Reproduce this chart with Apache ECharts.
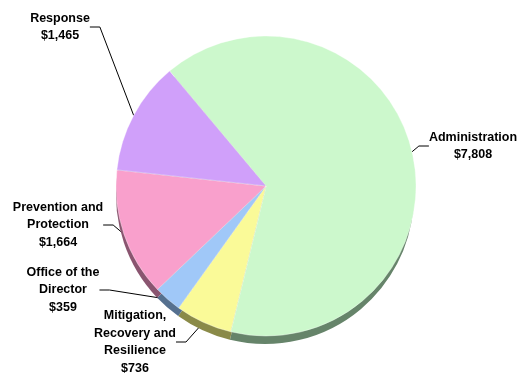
<!DOCTYPE html>
<html><head><meta charset="utf-8">
<script src="https://cdn.jsdelivr.net/npm/echarts@6/dist/echarts.min.js"></script>
<style>html,body{margin:0;padding:0;background:#fff}#c{width:519px;height:373px}</style>
</head><body><div id="c"></div>
<script>
const categories = ['Administration', 'Mitigation,\nRecovery and\nResilience', 'Office of the\nDirector', 'Prevention and\nProtection', 'Response'];
const values = [7808, 736, 359, 1664, 1465];
const valueLabels = ['$7,808', '$736', '$359', '$1,664', '$1,465'];

const topColors = ['#ccf8cc', '#fafa98', '#a0c8f8', '#f9a0cc', '#d0a0fa'];
const sideColors = ['#66846a', '#8a8a48', '#55708f', '#8a5570', '#6f558a'];
const labelPos = [[473, 146], [135, 342], [63, 290], [58, 225], [60, 27]];

const chart = echarts.init(document.getElementById('c'), null, {renderer: 'canvas'});
const cx = 266, cy = 186, R = 150;
chart.setOption({
  animation: false,
  series: [
    {
      type: 'pie', silent: true, center: [cx - 1, cy + 9], radius: R - 1, startAngle: 130, clockwise: true,
      label: {show: false}, labelLine: {show: false},
      data: values.map((v, i) => ({value: v, name: categories[i], itemStyle: {color: sideColors[i]}}))
    },
    {
      type: 'pie', center: [cx, cy], radius: R, startAngle: 130, clockwise: true,
      itemStyle: {borderColor: 'rgba(255,255,255,0.6)', borderWidth: 0.6},
      label: {
        show: true, position: 'outside', overflow: 'none', alignTo: 'none',
        formatter: p => p.name + '\n' + valueLabels[p.dataIndex],
        fontFamily: 'Liberation Sans', fontWeight: 'bold', fontSize: 12.5, lineHeight: 17.5,
        color: '#000', align: 'center'
      },
      labelLine: {show: true, length: 10, length2: 10, lineStyle: {color: '#000', width: 1}},
      labelLayout: p => ({x: labelPos[p.dataIndex][0], y: labelPos[p.dataIndex][1], align: 'center', verticalAlign: 'middle'}),
      data: values.map((v, i) => ({value: v, name: categories[i], itemStyle: {color: topColors[i]}}))
    }
  ]
});
</script></body></html>
